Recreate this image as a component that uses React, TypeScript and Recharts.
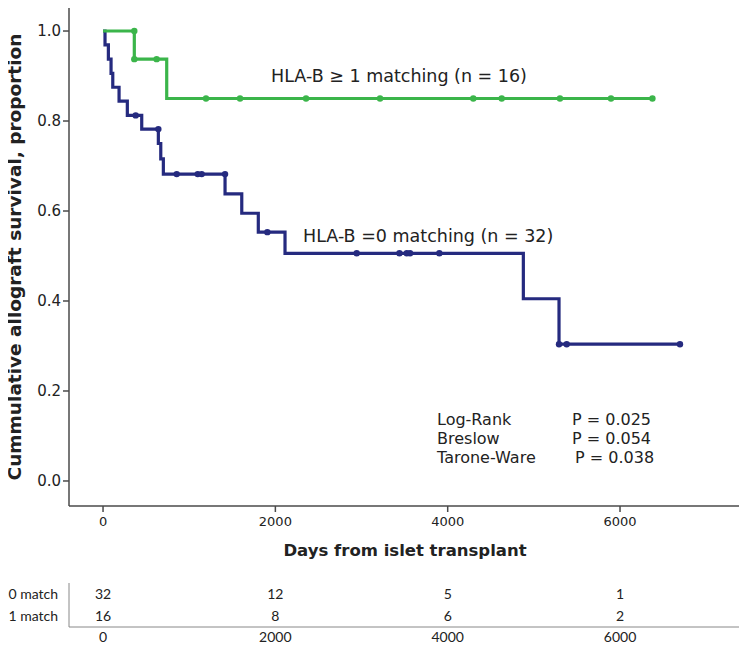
import {
  ComposedChart,
  Line,
  ReferenceDot,
  Scatter,
  XAxis,
  YAxis,
} from "recharts";

// Kaplan-Meier step points (day of event, survival after event)
const noMatchDays = [0, 23, 62, 93, 113, 186, 282, 449, 642, 670, 700, 1416, 1610, 1802, 2112, 4878, 5292, 6696];
const noMatchSurvival = [1.0, 0.969, 0.9375, 0.906, 0.875, 0.844, 0.8125, 0.782, 0.75, 0.716, 0.682, 0.638, 0.595, 0.553, 0.506, 0.405, 0.304, 0.304];

const matchDays = [0, 363, 739, 6376];
const matchSurvival = [1.0, 0.9375, 0.85, 0.85];

// censored observations
const noMatchCensorDays = [379, 642, 855, 1099, 1145, 1416, 1907, 2944, 3440, 3525, 3563, 3903, 5292, 5381, 6696];
const noMatchCensorSurvival = [0.8125, 0.782, 0.682, 0.682, 0.682, 0.682, 0.553, 0.506, 0.506, 0.506, 0.506, 0.506, 0.304, 0.304, 0.304];

const matchCensorDays = [363, 363, 622, 1195, 1590, 2356, 3215, 4297, 4627, 5303, 5895, 6376];
const matchCensorSurvival = [1.0, 0.9375, 0.9375, 0.85, 0.85, 0.85, 0.85, 0.85, 0.85, 0.85, 0.85, 0.85];

// numbers at risk
const riskTimes = [0, 2000, 4000, 6000];
const atRiskNoMatch = [32, 12, 5, 1];
const atRiskMatch = [16, 8, 6, 2];

const yTicks = [0, 0.2, 0.4, 0.6, 0.8, 1.0];

const BLUE = "#252a7f";
const GREEN = "#3bb54a";
const AXIS = "#4a4a4a";
const TEXT = "#222";
const FONT = "DejaVu Sans";
const TABLE_FONT = "Lato";
const X_DOMAIN: [number, number] = [-395, 7404];

const toPoints = (days: number[], surv: number[]) =>
  days.map((day, i) => ({ day, s: surv[i] }));

const noMatchCurve = toPoints(noMatchDays, noMatchSurvival);
const matchCurve = toPoints(matchDays, matchSurvival);
const noMatchCensors = toPoints(noMatchCensorDays, noMatchCensorSurvival);
const matchCensors = toPoints(matchCensorDays, matchCensorSurvival);

const riskData = [
  ...riskTimes.map((day, i) => ({ day, row: 1.5, n: atRiskNoMatch[i] })),
  ...riskTimes.map((day, i) => ({ day, row: 0.5, n: atRiskMatch[i] })),
];

const notes = [
  { day: 1950, s: 0.9, text: "HLA-B ≥ 1 matching (n = 16)", size: 17.5 },
  { day: 2321, s: 0.544, text: "HLA-B =0 matching (n = 32)", size: 17.5 },
  { day: 3876, s: 0.1367, text: "Log-Rank", size: 16 },
  { day: 3876, s: 0.0944, text: "Breslow", size: 16 },
  { day: 3876, s: 0.0522, text: "Tarone-Ware", size: 16 },
  { day: 5443, s: 0.1367, text: "P = 0.025", size: 16 },
  { day: 5443, s: 0.0944, text: "P = 0.054", size: 16 },
  { day: 5478, s: 0.0522, text: "P = 0.038", size: 16 },
];

const censorShape = (color: string) => (props: any) => {
  const { cx, cy } = props;
  return <circle cx={cx} cy={cy} r={3.2} fill={color} />;
};

const RiskCount = (props: any) => {
  const { cx, cy, payload } = props;
  return (
    <text
      x={cx}
      y={cy}
      dy="0.35em"
      textAnchor="middle"
      fontSize={14}
      fontFamily={TABLE_FONT}
      fill={TEXT}
    >
      {payload.n}
    </text>
  );
};

const XTitle = (props: any) => {
  const { x, width } = props.viewBox;
  return (
    <text
      x={x + width / 2}
      y={556}
      textAnchor="middle"
      fontSize={16.5}
      fontWeight="bold"
      fontFamily={FONT}
      fill={TEXT}
    >
      Days from islet transplant
    </text>
  );
};

const YTitle = (props: any) => {
  const { y, height } = props.viewBox;
  return (
    <text
      transform={`translate(21, ${y + height / 2 + 1}) rotate(-90)`}
      textAnchor="middle"
      fontSize={18.5}
      fontWeight="bold"
      fontFamily={FONT}
      fill={TEXT}
    >
      Cummulative allograft survival, proportion
    </text>
  );
};

export default function App() {
  return (
    <div
      style={{
        position: "relative",
        width: 747,
        height: 650,
        margin: -8,
        background: "#fff",
      }}
    >
      <div style={{ position: "absolute", left: 0, top: 0 }}>
        <ComposedChart
          width={747}
          height={570}
          margin={{ top: 6, right: 6, bottom: 0, left: 0 }}
        >
          <XAxis
            type="number"
            dataKey="day"
            domain={X_DOMAIN}
            allowDataOverflow
            ticks={riskTimes}
            height={64}
            tickSize={6}
            tickMargin={5}
            axisLine={{ stroke: AXIS, strokeWidth: 1.5 }}
            tickLine={{ stroke: AXIS, strokeWidth: 1.5 }}
            tick={{ fontSize: 13, fill: TEXT, fontFamily: FONT }}
            label={XTitle}
          />
          <XAxis
            xAxisId="top"
            orientation="top"
            type="number"
            domain={X_DOMAIN}
            allowDataOverflow
            height={0}
            tick={false}
            tickLine={false}
            axisLine={{ stroke: AXIS, strokeWidth: 1.5 }}
          />
          <YAxis
            type="number"
            dataKey="s"
            domain={[-0.0556, 1.0556]}
            allowDataOverflow
            ticks={yTicks}
            tickFormatter={(v) => Number(v).toFixed(1)}
            width={69}
            tickSize={6}
            tickMargin={2}
            axisLine={{ stroke: AXIS, strokeWidth: 1.5 }}
            tickLine={{ stroke: AXIS, strokeWidth: 1.5 }}
            tick={{ fontSize: 15, fill: TEXT, fontFamily: FONT }}
            label={YTitle}
          />
          <YAxis
            yAxisId="right"
            orientation="right"
            type="number"
            domain={[0, 1]}
            width={0}
            tick={false}
            tickLine={false}
            axisLine={{ stroke: AXIS, strokeWidth: 1.5 }}
          />
          <Line
            data={noMatchCurve}
            dataKey="s"
            type="stepAfter"
            stroke={BLUE}
            strokeWidth={3.2}
            dot={false}
            activeDot={false}
            isAnimationActive={false}
          />
          <Line
            data={matchCurve}
            dataKey="s"
            type="stepAfter"
            stroke={GREEN}
            strokeWidth={3.2}
            dot={false}
            activeDot={false}
            isAnimationActive={false}
          />
          <Scatter
            data={noMatchCensors}
            dataKey="s"
            shape={censorShape(BLUE)}
            isAnimationActive={false}
          />
          <Scatter
            data={matchCensors}
            dataKey="s"
            shape={censorShape(GREEN)}
            isAnimationActive={false}
          />
          {notes.map((note) => (
            <ReferenceDot
              key={note.text}
              x={note.day}
              y={note.s}
              r={0}
              stroke="none"
              fill="none"
              label={{
                value: note.text,
                position: "right",
                offset: 0,
                fontSize: note.size,
                fontFamily: FONT,
                fill: TEXT,
              }}
            />
          ))}
        </ComposedChart>
      </div>
      <div style={{ position: "absolute", left: 0, top: 560 }}>
        <ComposedChart
          width={747}
          height={90}
          margin={{ top: 23, right: 6, bottom: 0, left: 0 }}
        >
          <XAxis
            type="number"
            dataKey="day"
            domain={X_DOMAIN}
            allowDataOverflow
            ticks={riskTimes}
            height={23}
            tickLine={false}
            tickSize={4}
            tickMargin={1}
            axisLine={{ stroke: "#888", strokeWidth: 1 }}
            tick={{ fontSize: 14, fill: TEXT, fontFamily: TABLE_FONT }}
          />
          <YAxis
            type="number"
            dataKey="row"
            domain={[0, 2]}
            allowDataOverflow
            ticks={[0.5, 1.5]}
            tickFormatter={(v) => (v > 1 ? "0 match" : "1 match")}
            width={69}
            tickLine={false}
            tickSize={8}
            tickMargin={3}
            axisLine={{ stroke: "#888", strokeWidth: 1 }}
            tick={{ fontSize: 14, fill: TEXT, fontFamily: TABLE_FONT }}
          />
          <Scatter data={riskData} shape={RiskCount} isAnimationActive={false} />
        </ComposedChart>
      </div>
    </div>
  );
}
